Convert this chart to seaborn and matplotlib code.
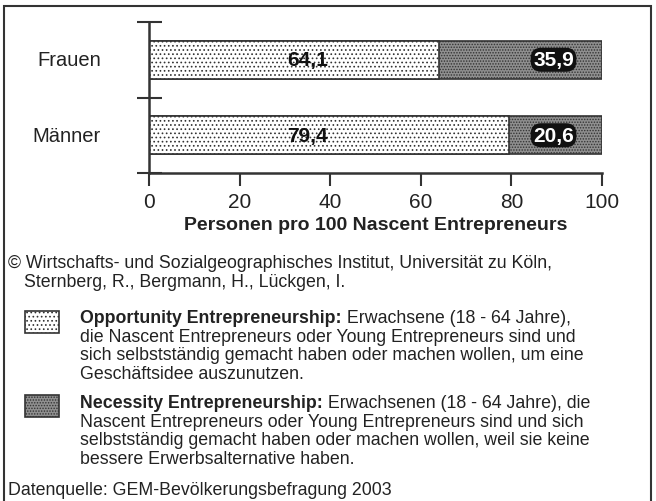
import matplotlib
matplotlib.use('Agg')
import matplotlib.pyplot as plt
import matplotlib.patches as mpatches
import pandas as pd
import seaborn as sns

# data
groups = ['Frauen', 'Männer']
opportunity = [64.1, 79.4]
necessity = [35.9, 20.6]
opp_labels = ['64,1', '79,4']
nec_labels = ['35,9', '20,6']
xticks = [0, 20, 40, 60, 80, 100]

W, H = 656, 502

sns.set_theme(style='white')
plt.rcParams['font.family'] = ['Liberation Sans', 'DejaVu Sans']
plt.rcParams['hatch.linewidth'] = 0.7


def fx(px):
    return px / W


def fy(py):
    return 1 - py / H


df = pd.DataFrame({'group': groups, 'opp': opportunity, 'nec': necessity})
df['total'] = df['opp'] + df['nec']

f = plt.figure(figsize=(W / 100, H / 100), dpi=100)
ax = f.add_axes([fx(149), fy(174), fx(602) - fx(149), fy(23) - fy(174)])

edge = '#333333'
sns.barplot(data=df, x='total', y='group', orient='h', ax=ax, width=0.5,
            color='#8f8f8f', edgecolor=edge, linewidth=1.2, hatch='......',
            saturation=1)
sns.barplot(data=df, x='opp', y='group', orient='h', ax=ax, width=0.5,
            color='#ffffff', edgecolor=edge, linewidth=1.2, hatch='....',
            saturation=1)

ax.set_xlim(0, 100)
ax.set_ylim(1.5, -0.5)
ax.set_xticks(xticks)
ax.set_xticklabels([str(t) for t in xticks], fontsize=15, color='#222222')
ax.set_yticks([-0.5, 0.5, 1.5])
ax.set_yticklabels([])
ax.set_ylabel('')
ax.set_xlabel('Personen pro 100 Nascent Entrepreneurs', fontsize=14,
              fontweight='bold', color='#222222', labelpad=3)
ax.tick_params(axis='x', bottom=True, direction='out', length=9, width=1.5,
               color='#333333', pad=5)
ax.tick_params(axis='y', left=True, direction='inout', length=18, width=1.5,
               color='#333333')
for s in ['top', 'right']:
    ax.spines[s].set_visible(False)
for s in ['left', 'bottom']:
    ax.spines[s].set_color('#333333')
    ax.spines[s].set_linewidth(1.8)

for i, g in enumerate(groups):
    ax.text((101 - 149) / 453, i, g, transform=ax.get_yaxis_transform(), ha='right',
            va='center', fontsize=14.5, color='#222222')
    ax.text(35, i, opp_labels[i], ha='center', va='center', fontsize=15,
            fontweight='bold', color='#111111')
    ax.text(89.3, i, nec_labels[i], ha='center', va='center', fontsize=15,
            fontweight='bold', color='white',
            bbox=dict(boxstyle='round,pad=0.12,rounding_size=0.5',
                      fc='#111111', ec='none'))

# frame
f.patches.append(mpatches.Rectangle((fx(4), -0.02), fx(651) - fx(4), fy(7) + 0.02,
                                    transform=f.transFigure, fill=False,
                                    ec='#333333', lw=1.5))

txt = dict(fontsize=12.8, color='#222222', va='baseline')
f.text(fx(8), fy(268), '© Wirtschafts- und Sozialgeographisches Institut, Universität zu Köln,', **txt)
f.text(fx(24), fy(287), 'Sternberg, R., Bergmann, H., Lückgen, I.', **txt)

legend_rows = [
    ('white', '....', 'Opportunity Entrepreneurship:', ' Erwachsene (18 - 64 Jahre),',
     ['die Nascent Entrepreneurs oder Young Entrepreneurs sind und',
      'sich selbstständig gemacht haben oder machen wollen, um eine',
      'Geschäftsidee auszunutzen.'], 312, 323),
    ('#8f8f8f', '......', 'Necessity Entrepreneurship:', ' Erwachsenen (18 - 64 Jahre), die',
     ['Nascent Entrepreneurs oder Young Entrepreneurs sind und sich',
      'selbstständig gemacht haben oder machen wollen, weil sie keine',
      'bessere Erwerbsalternative haben.'], 396, 408),
]
for fc, hatch, head, rest, lines, top, base in legend_rows:
    f.patches.append(mpatches.Rectangle((fx(25), fy(top + 22)), fx(59) - fx(25), fy(top) - fy(top + 22),
                                        transform=f.transFigure, fc=fc, ec=edge,
                                        lw=1.2, hatch=hatch))
    t = f.text(fx(80), fy(base), head, fontweight='bold', **txt)
    f.canvas.draw()
    bb = t.get_window_extent()
    f.text(bb.x1 / W, fy(base), rest, **txt)
    for k, line in enumerate(lines):
        f.text(fx(80), fy(base + 18.7 * (k + 1)), line, **txt)

f.text(fx(8), fy(495), 'Datenquelle: GEM-Bevölkerungsbefragung 2003', **txt)

f.savefig('out.png', dpi=100)
